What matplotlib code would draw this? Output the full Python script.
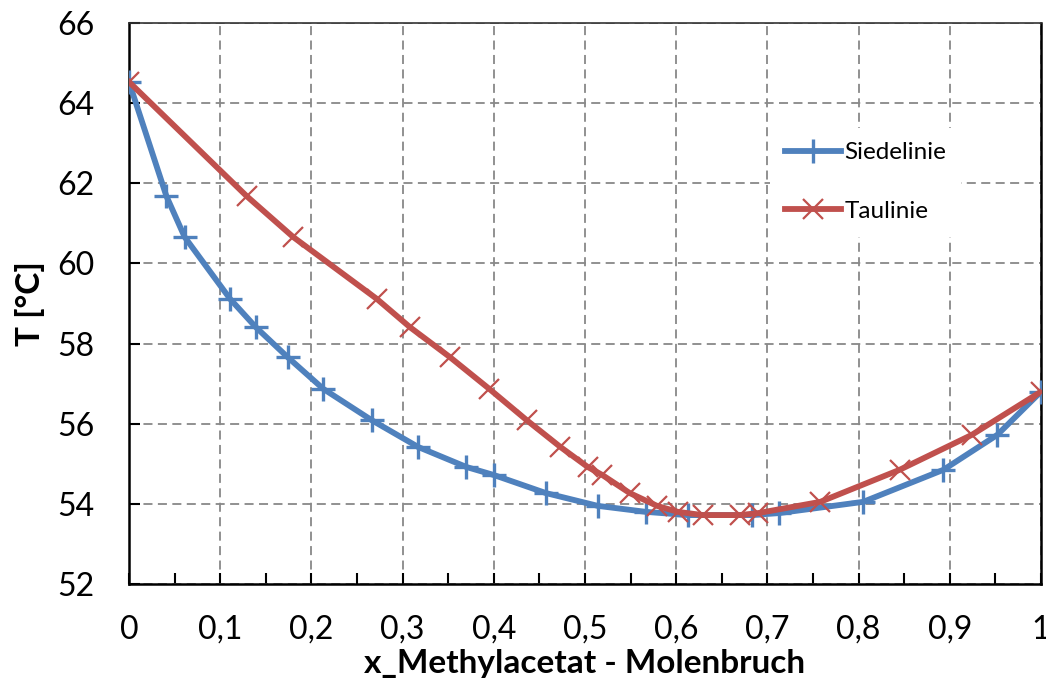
#!/usr/bin/env python3
"""
Siede- und Taulinie Methanol / Methylacetat (T-x Diagramm).
"""
import matplotlib
matplotlib.use('Agg')
import matplotlib.pyplot as plt
from matplotlib.ticker import MultipleLocator, FuncFormatter

# Daten
temp = [64.53, 61.68, 60.66, 59.11, 58.41, 57.66, 56.87, 56.09, 55.42, 54.92, 54.72,
        54.27, 53.95, 53.80, 53.72, 53.72, 53.77, 54.05, 54.85, 55.72, 56.80]
x_siede = [0.0, 0.041, 0.061, 0.111, 0.139, 0.174, 0.213, 0.266, 0.317, 0.370, 0.400,
           0.457, 0.514, 0.567, 0.613, 0.683, 0.713, 0.805, 0.893, 0.952, 1.0]
x_tau = [0.0, 0.129, 0.180, 0.272, 0.308, 0.352, 0.395, 0.436, 0.473, 0.503, 0.519,
         0.549, 0.579, 0.602, 0.629, 0.670, 0.690, 0.758, 0.845, 0.924, 1.0]

plt.rcParams['font.family'] = ['Lato', 'DejaVu Sans']

fig = plt.figure(figsize=(10.46, 6.84), dpi=100)
ax = fig.add_axes([129 / 1046, 1 - 584 / 684, (1041 - 129) / 1046, (584 - 23) / 684])

ax.plot(x_siede, temp, color='#4F81BD', lw=4.2, marker='+', ms=17, mew=2.4,
        label='Siedelinie', zorder=3)
ax.plot(x_tau, temp, color='#C0504D', lw=4.2, marker='x', ms=15, mew=1.6,
        label='Taulinie', zorder=4)

ax.set_xlim(0, 1)
ax.set_ylim(52, 66)
ax.xaxis.set_major_locator(MultipleLocator(0.1))
ax.xaxis.set_minor_locator(MultipleLocator(0.05))
ax.yaxis.set_major_locator(MultipleLocator(2))
ax.xaxis.set_major_formatter(FuncFormatter(
    lambda v, p: '0' if abs(v) < 1e-9 else ('1' if abs(v - 1) < 1e-9 else f'{v:.1f}'.replace('.', ','))))
ax.tick_params(axis='both', which='both', labelsize=23, direction='in', length=8, width=1.5,
               top=False, right=False)
ax.tick_params(axis='x', pad=22)
ax.tick_params(axis='y', pad=25)

ax.grid(True, color='#888888', linestyle=(0, (5, 3)), linewidth=1.3)
for s in ['left', 'bottom', 'right']:
    ax.spines[s].set_linewidth(1.8)
ax.spines['top'].set_linewidth(1.2)
ax.spines['top'].set_color('#333333')

ax.set_xlabel('x_Methylacetat - Molenbruch', fontsize=24, fontweight='bold', va='center')
ax.xaxis.set_label_coords(0.5, (584 - 664) / 561)
ax.set_ylabel('T [°C]', fontsize=24, fontweight='bold', va='center')
ax.yaxis.set_label_coords((30 - 129) / 912, 0.5)

leg = ax.legend(loc='upper left', bbox_to_anchor=(0.690, 0.835), fontsize=17.5,
                frameon=True, edgecolor='none', framealpha=1, handlelength=2.3,
                labelspacing=1.55, borderpad=0.6, handletextpad=0.15)

fig.savefig('out.png', dpi=100)
